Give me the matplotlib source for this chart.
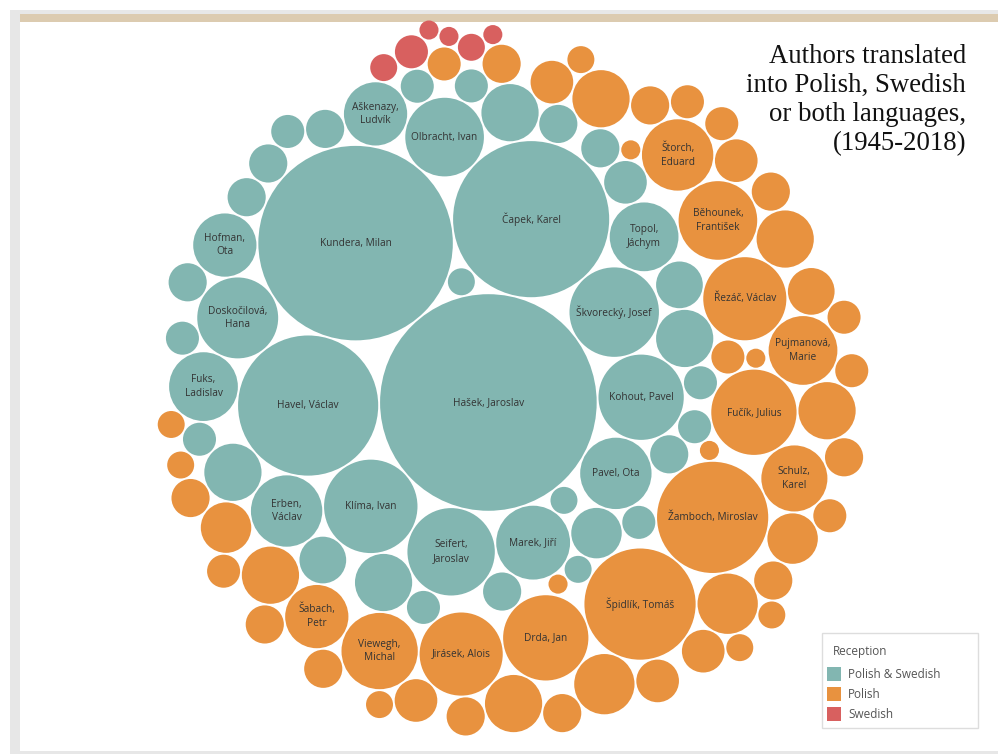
import numpy as np
import matplotlib.pyplot as plt
from matplotlib.patches import Circle, Rectangle

# Polish & Swedish (teal) - number of translated titles, "" = unlabelled bubble
both_names = ["Hašek, Jaroslav", "Kundera, Milan", "Čapek, Karel", "Havel, Václav", "Klíma, Ivan",
              "Škvorecký, Josef", "Seifert,\nJaroslav", "Kohout, Pavel", "Doskočilová,\nHana",
              "Olbracht, Ivan", "Marek, Jiří", "Pavel, Ota", "Erben,\nVáclav", "Topol,\nJáchym",
              "Fuks,\nLadislav", "Hofman,\nOta", "Aškenazy,\nLudvík"] + [""] * 28
both_counts = [129, 104, 67, 54, 24, 22, 21, 20, 18, 17, 15, 14, 14, 13, 13, 11, 11,
               9, 9, 9, 9, 7, 6, 6, 5, 4, 4, 4, 4, 4, 4, 4, 4,
               3, 3, 3, 3, 3, 3, 3, 3, 3, 2, 2, 2]

# Polish only (orange)
polish_names = ["Žamboch, Miroslav", "Špidlík, Tomáš", "Fučík, Julius", "Drda, Jan",
                "Řezáč, Václav", "Jirásek, Alois", "Běhounek,\nFrantišek", "Viewegh,\nMichal",
                "Štorch,\nEduard", "Pujmanová,\nMarie", "Schulz,\nKarel", "Šabach,\nPetr"] + [""] * 43
polish_counts = [34, 34, 20, 20, 19, 19, 17, 16, 14, 13, 12, 11,
                 10, 10, 9, 9, 9, 9, 9, 7, 7, 6, 5, 5, 5, 5, 5,
                 4, 4, 4, 4, 4, 4, 4, 4, 4, 4,
                 3, 3, 3, 3, 3, 3, 3, 3,
                 2, 2, 2, 2, 2, 2, 1, 1, 1, 1]

# Swedish only (red)
swedish_names = [""] * 6
swedish_counts = [3, 2, 2, 1, 1, 1]

groups = ["Polish & Swedish", "Polish", "Swedish"]
colors = {"Polish & Swedish": "#82b6b1", "Polish": "#e8923f", "Swedish": "#d8605f"}

# where each group tends to gather (layout units, screen orientation: y grows downwards)
anchors = np.array([[-5.0, -6.0], [2.5, -1.0], [-4.0, -28.0]])


def pack(radii, grp, gap):
    # greedy packing: each circle goes to the free tangent spot nearest its group anchor,
    # later groups are kept outside the hull of the earlier groups
    n = len(radii)
    R = radii + gap / 2
    pos = np.zeros((n, 2))
    a0 = anchors[grp[0]]
    pos[1] = a0 / np.hypot(*a0) * (R[0] + R[1])
    for k in range(2, n):
        P, Q, r = pos[:k], R[:k], R[k]
        i, j = np.triu_indices(k, 1)
        dv = P[j] - P[i]
        d = np.hypot(dv[:, 0], dv[:, 1])
        a, b = Q[i] + r, Q[j] + r
        ok = (d < a + b) & (d > np.abs(a - b))
        i, dv, d, a, b = i[ok], dv[ok], d[ok], a[ok], b[ok]
        x = (d ** 2 + a ** 2 - b ** 2) / (2 * d)
        h = np.sqrt(np.maximum(a ** 2 - x ** 2, 0))
        u = dv / d[:, None]
        perp = np.stack([-u[:, 1], u[:, 0]], 1)
        base = P[i] + u * x[:, None]
        cand = np.vstack([base + perp * h[:, None], base - perp * h[:, None]])
        dist = np.hypot(cand[:, None, 0] - P[None, :, 0], cand[:, None, 1] - P[None, :, 1])
        valid = np.all(dist >= Q[None, :] + r - 1e-6, axis=1)
        prev = np.array(grp[:k]) < grp[k]
        if prev.any():
            w = Q[prev] ** 2
            c0 = (P[prev] * w[:, None]).sum(0) / w.sum()
            rel = cand - c0
            cn = np.hypot(rel[:, 0], rel[:, 1])
            dirs = rel / cn[:, None]
            support = (dirs @ (P[prev] - c0).T + Q[prev][None, :]).max(1)
            valid &= cn + r >= support
        cand = cand[valid]
        target = anchors[grp[k]]
        pos[k] = cand[np.argmin(((cand - target) ** 2).sum(1))]
    return pos


names = both_names + polish_names + swedish_names
counts = np.array(both_counts + polish_counts + swedish_counts, dtype=float)
kind_idx = [0] * len(both_counts) + [1] * len(polish_counts) + [2] * len(swedish_counts)

radii = np.sqrt(counts)
pos = pack(radii, kind_idx, 0.2)

# fit the cluster into the plot area
x0, x1 = (pos[:, 0] - radii).min(), (pos[:, 0] + radii).max()
y0, y1 = (pos[:, 1] - radii).min(), (pos[:, 1] + radii).max()
scale = min(743 / (x1 - x0), 715 / (y1 - y0))
cx, cy = 513, 378
px = cx + (pos[:, 0] - (x0 + x1) / 2) * scale
py = cy + (pos[:, 1] - (y0 + y1) / 2) * scale
pr = radii * scale

fig = plt.figure(figsize=(9.98, 7.55), dpi=100)
ax = fig.add_axes([0, 0, 1, 1])
ax.set_xlim(0, 998)
ax.set_ylim(755, 0)
ax.axis("off")

# dashboard frame
ax.add_patch(Rectangle((10, 10), 988, 4, color="#e7e7e7", lw=0))
ax.add_patch(Rectangle((20, 14), 978, 8, color="#dccbb0", lw=0))
ax.add_patch(Rectangle((10, 10), 10, 743, color="#e7e7e7", lw=0))
ax.add_patch(Rectangle((10, 751), 988, 3, color="#e7e7e7", lw=0))

for k in range(len(counts)):
    ax.add_patch(Circle((px[k], py[k]), pr[k], color=colors[groups[kind_idx[k]]], lw=0))
    if names[k]:
        ax.text(px[k], py[k], names[k], ha="center", va="center", fontsize=7.3,
                family="Open Sans", color="#333333", linespacing=1.35)

ax.text(966, 44, "Authors translated\ninto Polish, Swedish\nor both languages,\n(1945-2018)",
        ha="right", va="top", fontsize=19.3, family="Liberation Serif", color="#111111",
        linespacing=1.22)

# legend
ax.add_patch(Rectangle((822, 633), 156, 95, facecolor="white", edgecolor="#dddddd", lw=1))
ax.text(833, 651, "Reception", fontsize=8.5, family="Open Sans", color="#555555", va="center")
for n, g in enumerate(groups):
    yy = 674 + n * 20
    ax.add_patch(Rectangle((827, yy - 7), 14, 14, color=colors[g], lw=0))
    ax.text(848, yy, g, fontsize=8.5, family="Open Sans", color="#555555", va="center")

fig.savefig("out.png", dpi=100)
